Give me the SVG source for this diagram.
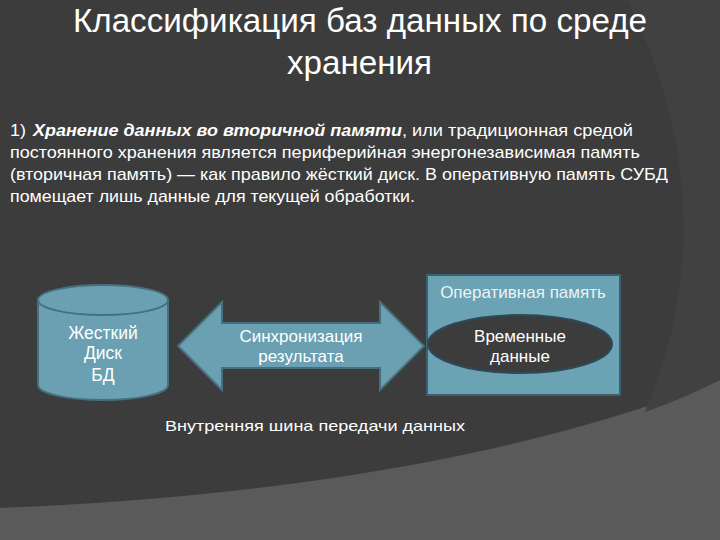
<svg xmlns="http://www.w3.org/2000/svg" width="720" height="540" viewBox="0 0 720 540">
<style>
text{font-family:"Liberation Sans",Arial,sans-serif;fill:#ffffff}
.title{font-size:34px}
.body{font-size:17px}
.lbl{font-size:17px;text-anchor:middle}
.big{font-size:17.5px}
.shape{fill:#6aa0b2;stroke:#46707f;stroke-width:2}
</style>
<rect width="720" height="540" fill="#5a5a5a"/>
<path d="M0,0 H720 V380 Q440,490 0,508 Z" fill="#3c3c3c"/>
<path d="M628,0 Q730,210 645,412 Q685,398 720,380 V0 Z" fill="#414141"/>
<g id="title">
<text class="title" x="73" y="32" textLength="574" lengthAdjust="spacingAndGlyphs">Классификация баз данных по среде</text>
<text class="title" x="287" y="74" textLength="145" lengthAdjust="spacingAndGlyphs">хранения</text>
</g>
<g id="body" class="body">
<text x="10" y="136"><tspan textLength="16" lengthAdjust="spacingAndGlyphs">1)</tspan></text>
<text x="33" y="136" font-weight="bold" font-style="italic" textLength="369" lengthAdjust="spacingAndGlyphs">Хранение данных во вторичной памяти</text>
<text x="402" y="136" textLength="231" lengthAdjust="spacingAndGlyphs">, или традиционная средой</text>
<text x="10" y="158" textLength="630" lengthAdjust="spacingAndGlyphs">постоянного хранения является периферийная энергонезависимая память</text>
<text x="10" y="180" textLength="658" lengthAdjust="spacingAndGlyphs">(вторичная память) — как правило жёсткий диск. В оперативную память СУБД</text>
<text x="10" y="202" textLength="405" lengthAdjust="spacingAndGlyphs">помещает лишь данные для текущей обработки.</text>
</g>
<g id="disk">
<path class="shape" d="M38,300 V385 A65,15 0 0 0 168,385 V300"/>
<ellipse class="shape" cx="103" cy="300" rx="65" ry="15"/>
<text class="lbl big" x="103" y="339">Жесткий</text>
<text class="lbl big" x="103" y="359">Диск</text>
<text class="lbl big" x="103" y="381">БД</text>
</g>
<g id="connectors">
<g id="sync">
<path class="shape" d="M178,346 L222,302 V323 H380 V302 L424,346 L380,390 V368 H222 V390 Z"/>
<text class="lbl" x="301" y="342">Синхронизация</text>
<text class="lbl" x="301" y="362">результата</text>
</g>
</g>
<g id="ram">
<rect x="427" y="275" width="193" height="120" fill="#6ba3b5" stroke="#3e5f6e" stroke-width="2"/>
<text class="lbl" x="523" y="298" style="fill:#eaf3f6">Оперативная память</text>
<g id="temp">
<ellipse cx="520" cy="344" rx="92" ry="29" fill="#3c3c3c" stroke="#2c4a58" stroke-width="2"/>
<text class="lbl" x="520" y="342">Временные</text>
<text class="lbl" x="520" y="362">данные</text>
</g>
</g>
<g id="bus">
<text x="165" y="431" font-size="15" textLength="300" lengthAdjust="spacingAndGlyphs">Внутренняя шина передачи данных</text>
</g>
</svg>
